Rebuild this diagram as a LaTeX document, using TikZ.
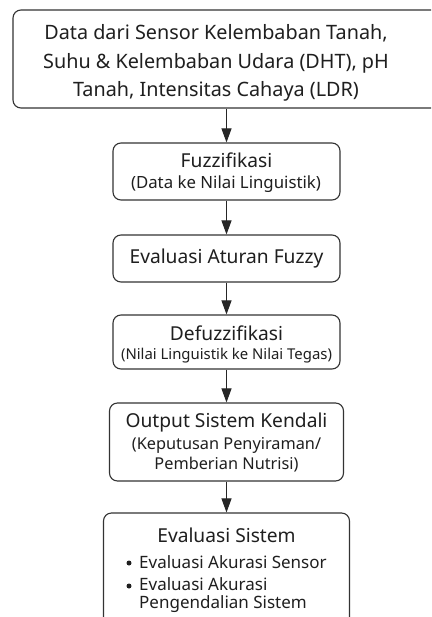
\documentclass[tikz,border=0pt]{standalone}
\usepackage{fontspec}
\setmainfont{Noto Sans}
\usetikzlibrary{arrows.meta}
\begin{document}
\begin{tikzpicture}[x=1pt,y=-1pt,
  box/.style={draw=black!80, line width=1.1pt, rounded corners=8pt, fill=white, inner sep=0pt},
  big/.style={font=\fontsize{19.8}{28.5}\selectfont, text=black!88, align=center, inner sep=0pt},
  ttl/.style={font=\fontsize{19.2}{22}\selectfont, text=black!88, inner sep=0pt},
  sub/.style={font=\fontsize{16.3}{20}\selectfont, text=black!88, align=center, inner sep=0pt},
  subs/.style={font=\fontsize{14.9}{20}\selectfont, text=black!88, align=center, inner sep=0pt},
  itm/.style={font=\fontsize{17}{18.5}\selectfont, text=black!88, align=left, inner sep=0pt},
  dot/.style={circle, fill=black!88, inner sep=0pt, minimum size=5pt},
  arr/.style={-{Triangle[length=14pt,width=10pt]}, line width=1pt, draw=black!85}]
\useasboundingbox (0,0) rectangle (431,617);
\clip (0,0) rectangle (431,617);
\fill[white] (0,0) rectangle (431,617);
% boxes
\node[box, minimum width=427pt, minimum height=98pt] (b1) at (226.5,59) {};
\node[box, minimum width=227pt, minimum height=57pt] (b2) at (226.5,171.5) {};
\node[box, minimum width=227pt, minimum height=47pt] (b3) at (226.5,258.5) {};
\node[box, minimum width=227pt, minimum height=54pt] (b4) at (226.5,342) {};
\node[box, minimum width=234pt, minimum height=78pt] (b5) at (226.5,442) {};
\node[box, minimum width=246pt, minimum height=117pt] (b6) at (226.5,571.5) {};
% arrows
\draw[arr] (b1) -- (b2);
\draw[arr] (b2) -- (b3);
\draw[arr] (b3) -- (b4);
\draw[arr] (b4) -- (b5);
\draw[arr] (b5) -- (b6);
% texts
\node[big] (t1) at (216,63) {Data dari Sensor Kelembaban Tanah,\\Suhu \& Kelembaban Udara (DHT), pH\\Tanah, Intensitas Cahaya (LDR)};
\node[ttl] (t2a) at (226.5,160) {Fuzzifikasi};
\node[sub, font=\fontsize{16.8}{20}\selectfont] (t2b) at (226,184) {(Data ke Nilai Linguistik)};
\node[ttl] (t3) at (226.5,258.5) {Evaluasi Aturan Fuzzy};
\node[ttl] (t4a) at (226.5,333) {Defuzzifikasi};
\node[subs] (t4b) at (226.5,356) {(Nilai Linguistik ke Nilai Tegas)};
\node[ttl] (t5a) at (226.5,423) {Output Sistem Kendali};
\node[sub] (t5b) at (226.5,455) {(Keputusan Penyiraman/\\Pemberian Nutrisi)};
\node[ttl] (t6a) at (226.5,535) {Evaluasi Sistem};
\node[dot] (d1) at (129,563) {};
\node[itm, anchor=west] (i1) at (139,562) {Evaluasi Akurasi Sensor};
\node[dot] (d2) at (129,586) {};
\node[itm, anchor=north west] (i2) at (139,577) {Evaluasi Akurasi\\Pengendalian Sistem};
\end{tikzpicture}
\end{document}
